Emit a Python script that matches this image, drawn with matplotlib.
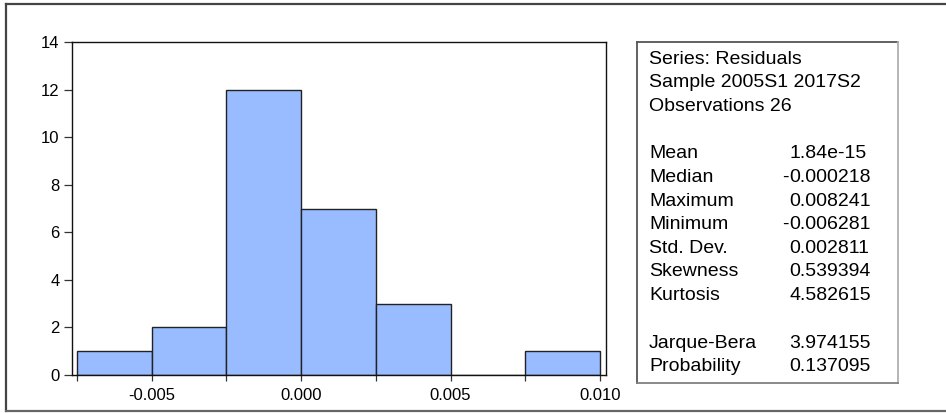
import numpy as np
import matplotlib
matplotlib.use("Agg")
from matplotlib import pyplot as plt
from matplotlib.lines import Line2D

plt.rcParams['font.family'] = ['Liberation Sans', 'DejaVu Sans']

# histogram of residuals
bin_edges = [-0.0075, -0.005, -0.0025, 0.0, 0.0025, 0.005, 0.0075, 0.010]
counts = [1, 2, 12, 7, 3, 0, 1]

x_labels = ["", "-0.005", "", "0.000", "", "0.005", "", "0.010"]
y_ticks = [0, 2, 4, 6, 8, 10, 12, 14]

header = ["Series: Residuals", "Sample 2005S1 2017S2", "Observations 26"]
stat_names = ["Mean", "Median", "Maximum", "Minimum", "Std. Dev.",
              "Skewness", "Kurtosis"]
stat_values = ["1.84e-15", "-0.000218", "0.008241", "-0.006281",
               "0.002811", "0.539394", "4.582615"]
test_names = ["Jarque-Bera", "Probability"]
test_values = ["3.974155", "0.137095"]

W, H = 946, 413
fig = plt.figure(figsize=(W / 100, H / 100), dpi=100)


def px(x, y):
    return x / W, 1 - y / H


# outer frame
frame = [((6, 4), (946, 4), "#444444"),
         ((6, 4), (6, 411), "#444444"),
         ((6, 411), (946, 411), "#666666")]
for (x0, y0), (x1, y1), c in frame:
    a, b = px(x0, y0)
    cc, d = px(x1, y1)
    fig.add_artist(Line2D([a, cc], [b, d], color=c, lw=1.6,
                          transform=fig.transFigure))

left, right, top, bottom = 72, 606, 42, 375
ax = fig.add_axes([left / W, 1 - bottom / H, (right - left) / W, (bottom - top) / H])

widths = np.diff(bin_edges)
ax.bar(bin_edges[:-1], counts, width=widths, align='edge',
       color="#99bbff", edgecolor="#222222", linewidth=1.0)

ax.set_xlim(-0.00767, 0.0102)
ax.set_ylim(0, 14)
ax.set_xticks(bin_edges)
ax.set_xticklabels(x_labels)
ax.set_yticks(y_ticks)
ax.tick_params(axis='x', direction='out', length=4, width=0.9, pad=5,
               labelsize=12, color="#333333")
ax.tick_params(axis='y', direction='out', length=6, width=0.9, pad=3,
               labelsize=12, color="#333333")
for s in ax.spines.values():
    s.set_linewidth(1.0)
    s.set_color("#111111")

# statistics box
box = [((637, 42), (898, 42), "#555555"),
       ((637, 42), (637, 383), "#555555"),
       ((898, 42), (898, 383), "#b0b0b0"),
       ((637, 383), (898, 383), "#808080")]
for (x0, y0), (x1, y1), c in box:
    a, b = px(x0, y0)
    cc, d = px(x1, y1)
    fig.add_artist(Line2D([a, cc], [b, d], color=c, lw=1.3,
                          transform=fig.transFigure))

fs = 14
tx, vx = 649, 789
line_h = 23.6
for i, t in enumerate(header):
    fig.text(*px(tx, 59 + i * line_h), t, fontsize=fs, va='center', ha='left')


def put_value(y, v):
    if v.startswith("-"):
        fig.text(*px(vx, y), "-", fontsize=fs, va='center', ha='right')
        v = v[1:]
    fig.text(*px(vx, y), v, fontsize=fs, va='center', ha='left')


for i, (n, v) in enumerate(zip(stat_names, stat_values)):
    y = 154 + i * line_h
    fig.text(*px(tx, y), n, fontsize=fs, va='center', ha='left')
    put_value(y, v)

for i, (n, v) in enumerate(zip(test_names, test_values)):
    y = 343 + i * line_h
    fig.text(*px(tx, y), n, fontsize=fs, va='center', ha='left')
    put_value(y, v)

fig.savefig("out.png", dpi=100)
